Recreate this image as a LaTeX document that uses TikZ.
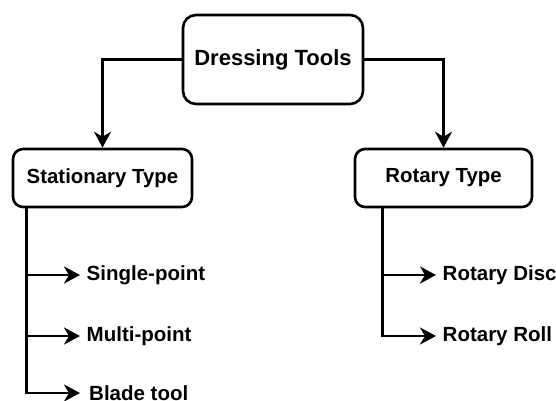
\documentclass[tikz,border=0pt]{standalone}
\usepackage{fontspec}
\setmainfont{Liberation Sans}
\usetikzlibrary{arrows.meta}
\begin{document}
\begin{tikzpicture}[x=1pt,y=-1pt,
  box/.style={draw, line width=2.6pt, rounded corners=10pt, font=\bfseries\fontsize{20.4}{24}\selectfont},
  leaf/.style={anchor=west, inner xsep=6.5pt, inner ysep=0pt, font=\bfseries\fontsize{20.5}{24}\selectfont},
  conn/.style={line width=2.6pt, -{Stealth[length=16pt,width=17pt,inset=5pt]}}]
\useasboundingbox (0,0) rectangle (556,400);
\node[box, rounded corners=13pt, minimum width=180pt, minimum height=89pt, font=\bfseries\fontsize{22}{26}\selectfont] (dt) at (273,59.5) {Dressing Tools};
\node[box, minimum width=179pt, minimum height=58pt] (st) at (102.5,178) {Stationary Type};
\node[box, minimum width=177pt, minimum height=58pt] (rt) at (443.5,178) {Rotary Type};
\node[leaf] (sp) at (80,275) {Single-point};
\node[leaf] (mp) at (80,336) {Multi-point};
\node[leaf, inner xsep=9pt] (bt) at (80,393) {Blade tool};
\node[leaf] (rd) at (436,275) {Rotary Disc};
\node[leaf] (rr) at (436,336) {Rotary Roll};
\draw[conn] (dt.west) -| (st.north);
\draw[conn] (dt.east) -| (rt.north);
\draw[conn] ([xshift=15pt]st.south west) |- (sp.west);
\draw[conn] ([xshift=15pt]st.south west) |- (mp.west);
\draw[conn] ([xshift=15pt]st.south west) |- (bt.west);
\draw[conn] ([xshift=29pt]rt.south west) |- (rd.west);
\draw[conn] ([xshift=29pt]rt.south west) |- (rr.west);
\end{tikzpicture}
\end{document}
